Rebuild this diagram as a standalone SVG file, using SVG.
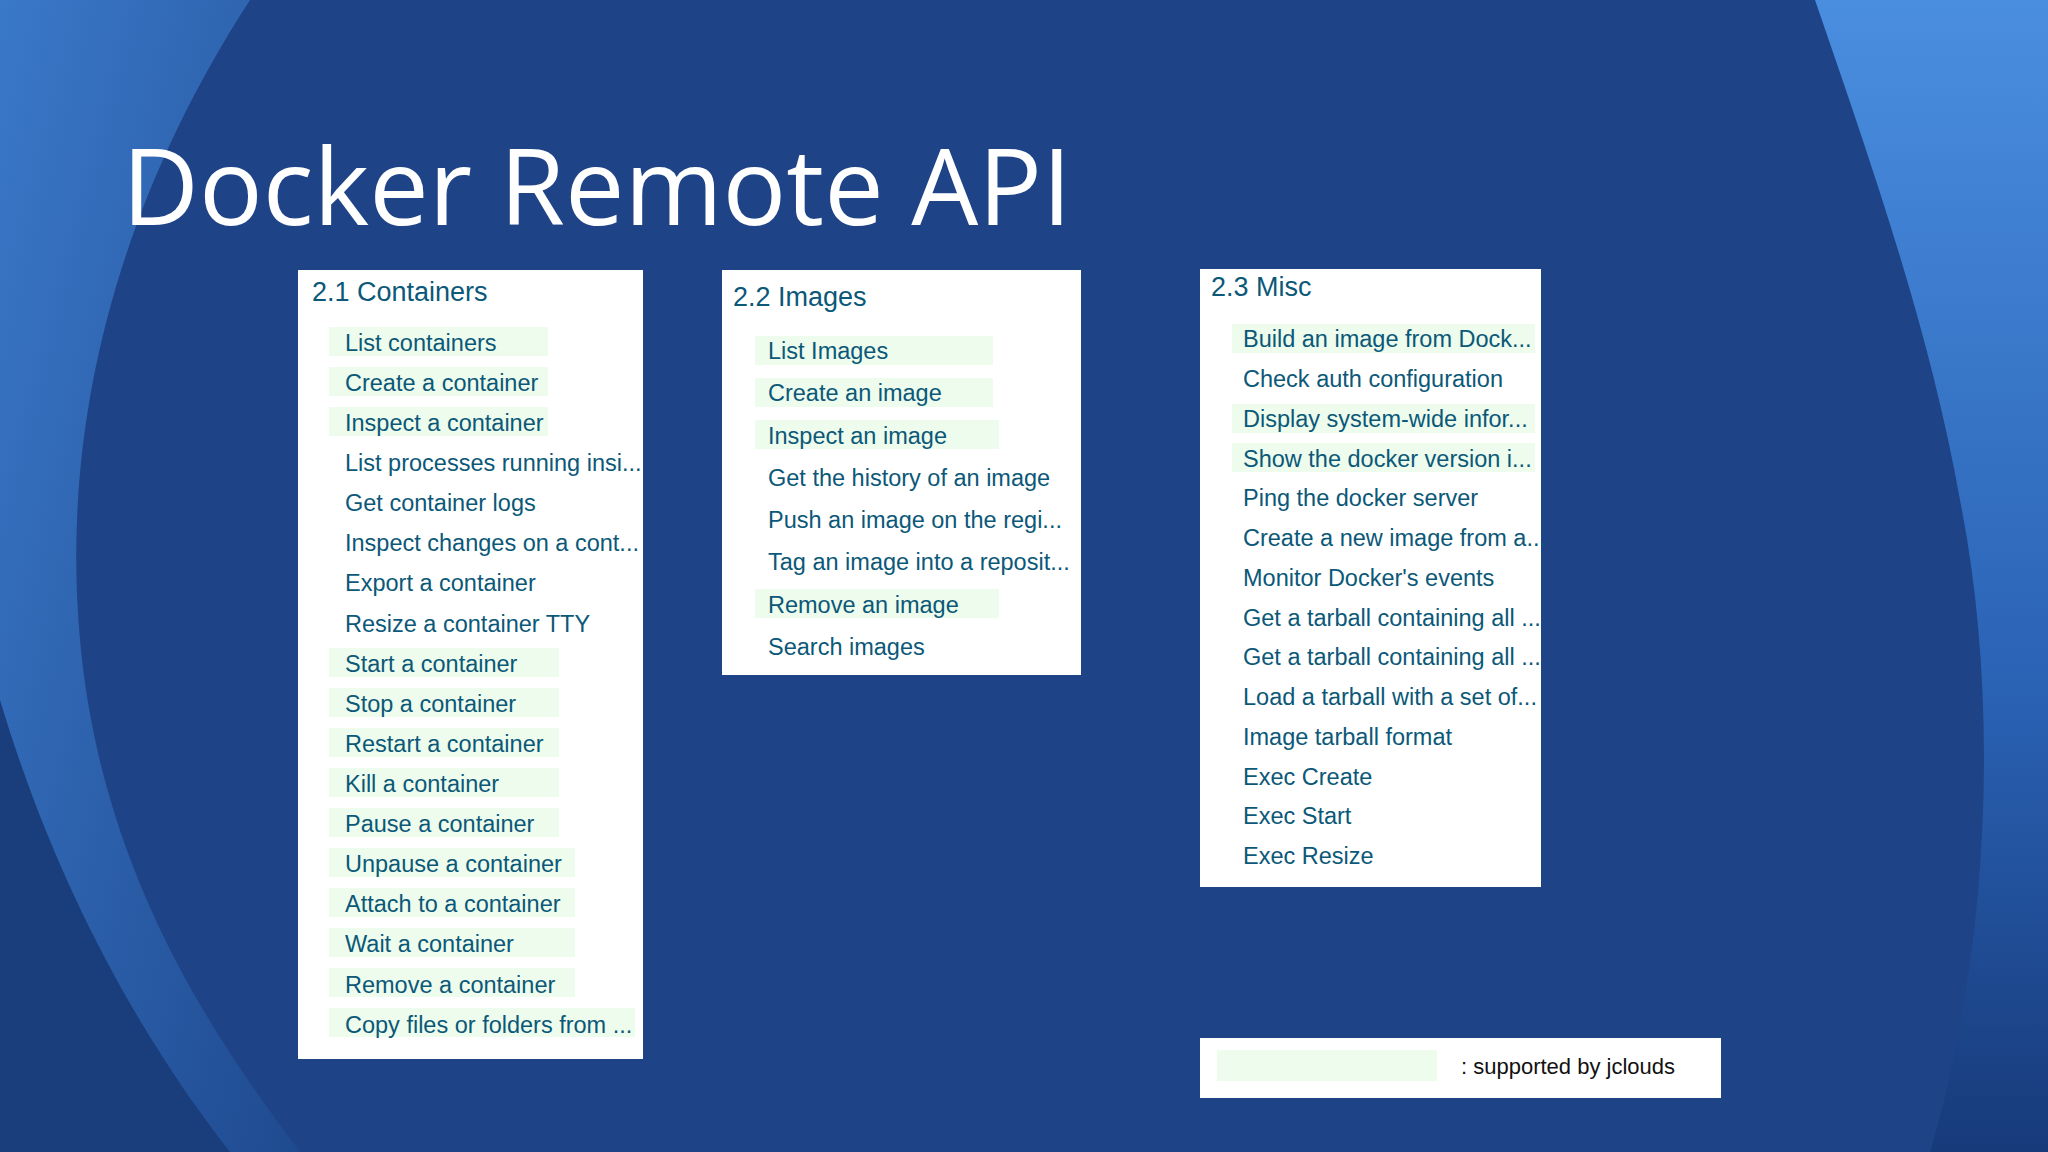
<svg xmlns="http://www.w3.org/2000/svg" width="2048" height="1152" viewBox="0 0 2048 1152">
<defs>
<style>
.box{fill:#ffffff}
.hl{fill:#edfcec}
.h{font-family:"Liberation Sans",Arial,sans-serif;font-size:27px;fill:#0b5878}
.t{font-family:"Liberation Sans",Arial,sans-serif;font-size:23.5px;fill:#0b5878}
</style>
<linearGradient id="lg" x1="0" y1="0" x2="1" y2="1">
<stop offset="0" stop-color="#3a78c8"/><stop offset="1" stop-color="#1f4a90"/>
</linearGradient>
<linearGradient id="rg" x1="0" y1="0" x2="0" y2="1">
<stop offset="0" stop-color="#4a8ee0"/><stop offset="0.6" stop-color="#2a62b4"/><stop offset="1" stop-color="#173a7a"/>
</linearGradient>
</defs>
<rect width="2048" height="1152" fill="#1e4387"/>
<path d="M0 0 H250 C120 200 60 420 80 640 C100 860 200 1020 300 1152 H0 Z" fill="url(#lg)"/>
<path d="M0 700 C60 900 150 1050 230 1152 H0 Z" fill="#1a3d7c"/>
<path d="M1815 0 H2048 V1152 H1930 C1990 950 2000 700 1960 500 C1930 330 1870 160 1815 0 Z" fill="url(#rg)"/>
<text x="122" y="225" font-family="'Open Sans','Noto Sans',sans-serif" font-size="106" fill="#ffffff">Docker Remote API</text>

<g id="containers">
<rect class="box" x="298" y="270" width="345" height="789"/>
<text class="h" x="312" y="301">2.1 Containers</text>
<rect class="hl" x="329" y="327" width="219" height="29"/>
<rect class="hl" x="329" y="367" width="219" height="29"/>
<rect class="hl" x="329" y="407" width="219" height="29"/>
<rect class="hl" x="329" y="648" width="230" height="29"/>
<rect class="hl" x="329" y="688" width="230" height="29"/>
<rect class="hl" x="329" y="728" width="230" height="29"/>
<rect class="hl" x="329" y="768" width="230" height="29"/>
<rect class="hl" x="329" y="808" width="230" height="29"/>
<rect class="hl" x="329" y="848" width="246" height="29"/>
<rect class="hl" x="329" y="888" width="246" height="29"/>
<rect class="hl" x="329" y="928" width="246" height="29"/>
<rect class="hl" x="329" y="968" width="246" height="29"/>
<rect class="hl" x="329" y="1008" width="306" height="29"/>
<text class="t" x="345" y="351">List containers</text>
<text class="t" x="345" y="391">Create a container</text>
<text class="t" x="345" y="431">Inspect a container</text>
<text class="t" x="345" y="471">List processes running insi...</text>
<text class="t" x="345" y="511">Get container logs</text>
<text class="t" x="345" y="551">Inspect changes on a cont...</text>
<text class="t" x="345" y="591">Export a container</text>
<text class="t" x="345" y="632">Resize a container TTY</text>
<text class="t" x="345" y="672">Start a container</text>
<text class="t" x="345" y="712">Stop a container</text>
<text class="t" x="345" y="752">Restart a container</text>
<text class="t" x="345" y="792">Kill a container</text>
<text class="t" x="345" y="832">Pause a container</text>
<text class="t" x="345" y="872">Unpause a container</text>
<text class="t" x="345" y="912">Attach to a container</text>
<text class="t" x="345" y="952">Wait a container</text>
<text class="t" x="345" y="993">Remove a container</text>
<text class="t" x="345" y="1033">Copy files or folders from ...</text>
</g>

<g id="images">
<rect class="box" x="722" y="270" width="359" height="405"/>
<text class="h" x="733" y="306">2.2 Images</text>
<rect class="hl" x="755" y="336" width="238" height="29"/>
<rect class="hl" x="755" y="378" width="238" height="29"/>
<rect class="hl" x="755" y="420" width="244" height="29"/>
<rect class="hl" x="755" y="589" width="244" height="29"/>
<text class="t" x="768" y="359">List Images</text>
<text class="t" x="768" y="401">Create an image</text>
<text class="t" x="768" y="444">Inspect an image</text>
<text class="t" x="768" y="486">Get the history of an image</text>
<text class="t" x="768" y="528">Push an image on the regi...</text>
<text class="t" x="768" y="570">Tag an image into a reposit...</text>
<text class="t" x="768" y="613">Remove an image</text>
<text class="t" x="768" y="655">Search images</text>
</g>

<g id="misc">
<rect class="box" x="1200" y="269" width="341" height="618"/>
<text class="h" x="1211" y="296">2.3 Misc</text>
<rect class="hl" x="1232" y="324" width="303" height="29"/>
<rect class="hl" x="1232" y="404" width="303" height="29"/>
<rect class="hl" x="1232" y="443" width="303" height="29"/>
<text class="t" x="1243" y="347">Build an image from Dock...</text>
<text class="t" x="1243" y="387">Check auth configuration</text>
<text class="t" x="1243" y="427">Display system-wide infor...</text>
<text class="t" x="1243" y="467">Show the docker version i...</text>
<text class="t" x="1243" y="506">Ping the docker server</text>
<text class="t" x="1243" y="546">Create a new image from a...</text>
<text class="t" x="1243" y="586">Monitor Docker's events</text>
<text class="t" x="1243" y="626">Get a tarball containing all ...</text>
<text class="t" x="1243" y="665">Get a tarball containing all ...</text>
<text class="t" x="1243" y="705">Load a tarball with a set of...</text>
<text class="t" x="1243" y="745">Image tarball format</text>
<text class="t" x="1243" y="785">Exec Create</text>
<text class="t" x="1243" y="824">Exec Start</text>
<text class="t" x="1243" y="864">Exec Resize</text>
</g>

<g id="legend">
<rect class="box" x="1200" y="1038" width="521" height="60"/>
<rect class="hl" x="1217" y="1050" width="220" height="31"/>
<text x="1461" y="1074" font-family="'Liberation Sans',Arial,sans-serif" font-size="22" fill="#111111">: supported by jclouds</text>
</g>
<g id="connectors"/>
</svg>
